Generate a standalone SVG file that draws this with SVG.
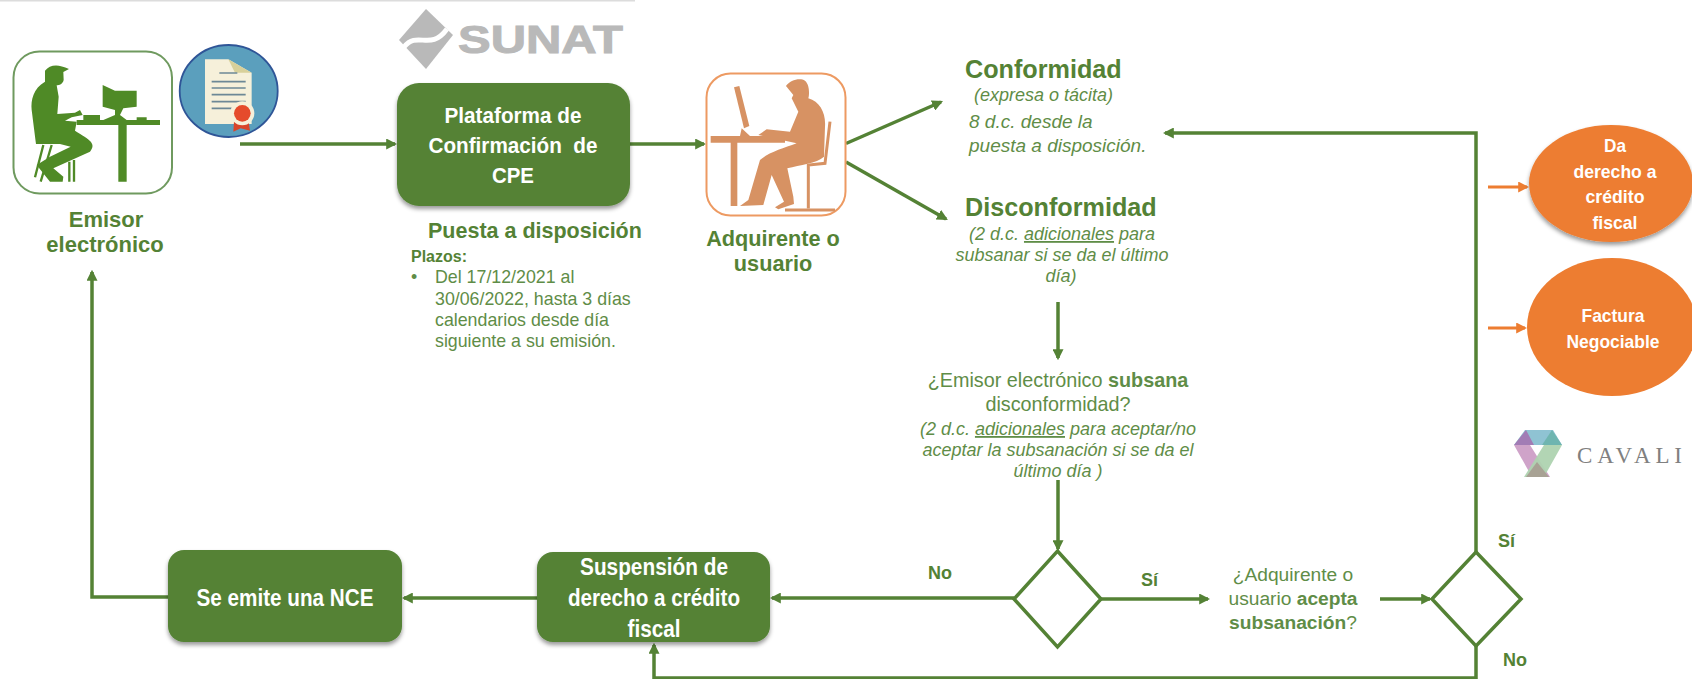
<svg xmlns="http://www.w3.org/2000/svg" width="1692" height="679" viewBox="0 0 1692 679">
<style>
text{font-family:"Liberation Sans",Arial,sans-serif}
.g{fill:#548235}
.l{fill:#5f8d47}
.b{font-weight:bold}
.c{text-anchor:middle}
.i{font-style:italic}
.w{fill:#fff;font-weight:bold;text-anchor:middle}
.t22{font-size:21.700px}.t25{font-size:25.200px}.t18{font-size:18px}
.box{fill:#548235;filter:url(#sh)}
.ell{fill:#ed7d31;filter:url(#sh)}
.ln{fill:none;stroke:#548235;stroke-width:3.500}
.arr{marker-end:url(#ag)}
.oarr{fill:none;stroke:#ed7d31;stroke-width:3;marker-end:url(#ao)}
.dia{fill:#fff;stroke:#548235;stroke-width:3.500}
</style>
<defs>
<filter id="sh" x="-10%" y="-10%" width="120%" height="125%"><feDropShadow dx="0" dy="3" stdDeviation="2.200" flood-color="#000" flood-opacity=".4"/></filter>
<marker id="ag" viewBox="0 0 10 10" refX="8" refY="5" markerWidth="11" markerHeight="11" markerUnits="userSpaceOnUse" orient="auto"><path d="M0,0L10,5L0,10Z" fill="#548235"/></marker>
<marker id="ao" viewBox="0 0 10 10" refX="8" refY="5" markerWidth="11" markerHeight="11" markerUnits="userSpaceOnUse" orient="auto"><path d="M0,0L10,5L0,10Z" fill="#ed7d31"/></marker>
</defs>
<rect width="1692" height="679" fill="#fff"/>
<rect id="top-rule" x="0" y="0" width="635" height="1.500" fill="#dcdcdc"/>

<g id="connectors">
<path class="ln arr" d="M240,144H395"/>
<path class="ln arr" d="M630,144H704"/>
<path class="ln arr" d="M846,143.500L941,102"/>
<path class="ln arr" d="M846,162L946,219"/>
<path class="ln arr" d="M1476,552V133H1165"/>
<path class="ln arr" d="M1058,302V358"/>
<path class="ln arr" d="M1058,480V549"/>
<path class="ln arr" d="M1014,598H772"/>
<path class="ln arr" d="M1101,599H1208"/>
<path class="ln arr" d="M1380,599H1430"/>
<path class="ln arr" d="M1476,646V678H654V645"/>
<path class="ln arr" d="M537,598H404"/>
<path class="ln arr" d="M168,597H92V272"/>
<path class="oarr" d="M1488,187H1527"/>
<path class="oarr" d="M1488,328H1525"/>
</g>

<g id="emisor">
<rect x="13.500" y="51.500" width="158.500" height="142" rx="26" fill="#fff" stroke="#6f9a5f" stroke-width="2"/>
<g transform="scale(.33333)" fill="#4f8a26">
<path d="M135,212C150,194 172,190 207,207L190,216L191,240C188,252 178,256 170,256L176,290L172,342L225,338L240,330L248,345L215,352L195,362L230,365L225,392C270,420 290,430 270,455L160,505L190,530L188,545H150L110,495L150,470L212,440L180,432H108C104,400 100,370 95,330C92,300 100,265 135,245Z"/>
<path d="M230,360H480V375H380V545H355V375H230Z"/>
<path d="M250,345H300V360H250ZM410,352H440V360H410Z"/>
<path d="M308,255L345,272H410V320L370,325L360,345L380,360H310L345,345V330L308,320Z"/>
<path d="M130,435L105,532M155,435L122,545M208,485V545M222,480V545" fill="none" stroke="#4f8a26" stroke-width="7"/>
</g>
<text class="g b c t22" x="106" y="227" style="font-size:22px">Emisor</text>
<text class="g b c t22" x="105" y="252" style="font-size:22px">electrónico</text>
</g>

<g id="documento">
<ellipse cx="228.700" cy="91" rx="49" ry="46" fill="#5b9fbd" stroke="#2f5597" stroke-width="1.800"/>
<g transform="scale(.33333)">
<path d="M615,178H685L755,218V372H615Z" fill="#f6f0da"/>
<path d="M685,178L755,218H705Z" fill="#d8d09a"/>
<path d="M658,219H712M635,245H737M635,264H737M635,284H737M635,305H737M635,325H695" stroke="#6d8896" stroke-width="5" fill="none"/>
<path d="M702,365L700,395L722,385L750,392L745,360Z" fill="#d9452a"/>
<circle cx="727" cy="340" r="36" fill="#f6f0da"/>
<circle cx="727" cy="340" r="25" fill="#e54b2c"/>
</g>
</g>

<g id="sunat">
<path d="M426,9L453,35L426,69L399,40Z" fill="#b9b9b9"/>
<path d="M404,47C418,30 430,52 447,29" fill="none" stroke="#fff" stroke-width="5"/>
<text x="458" y="53" font-size="39" font-weight="bold" fill="#b9b9b9" stroke="#b9b9b9" stroke-width="1" textLength="165" lengthAdjust="spacingAndGlyphs">SUNAT</text>
</g>

<g id="plataforma">
<rect class="box" x="397" y="83" width="233" height="123" rx="22"/>
<text class="w" font-size="22" x="513" y="123" textLength="137" lengthAdjust="spacingAndGlyphs">Plataforma de</text>
<text class="w" font-size="22" x="513" y="153" textLength="169" lengthAdjust="spacingAndGlyphs" xml:space="preserve">Confirmación  de</text>
<text class="w" font-size="22" x="513" y="183" textLength="42" lengthAdjust="spacingAndGlyphs">CPE</text>
</g>

<g id="plazos">
<text class="g b" font-size="21.500" x="428" y="238">Puesta a disposición</text>
<text class="g b" font-size="16" x="411" y="262">Plazos:</text>
<text class="l" font-size="17.800" x="411" y="283">•</text>
<text class="l" font-size="17.800" x="435" y="283">Del 17/12/2021 al</text>
<text class="l" font-size="17.800" x="435" y="305">30/06/2022, hasta 3 días</text>
<text class="l" font-size="17.800" x="435" y="326">calendarios desde día</text>
<text class="l" font-size="17.800" x="435" y="347">siguiente a su emisión.</text>
</g>

<g id="adquirente">
<rect x="706.500" y="73.500" width="139" height="142" rx="24" fill="#fff" stroke="#ed9a62" stroke-width="2"/>
<g transform="translate(380,0) scale(.33333)" fill="#d79263">
<path d="M1218,258C1230,240 1260,232 1275,242C1290,255 1288,285 1285,295C1320,305 1338,340 1335,380L1332,470C1310,490 1260,495 1222,505L1240,590L1242,612L1195,628L1185,622L1212,605L1175,525L1150,615L1080,618L1105,600L1140,480C1170,455 1210,445 1250,430L1135,405L1160,388L1230,395L1255,335L1235,295L1240,285Z"/>
<path d="M1062,262L1078,258L1108,378L1092,385Z"/>
<path d="M992,408H1215V428H1072V618H1052V428H992Z"/>
<path d="M1085,385L1110,408H1080Z"/>
<path d="M1350,365L1335,490L1285,495V625M1215,630H1365" fill="none" stroke="#d79263" stroke-width="9"/>
</g>
<text class="g b c t22" x="773" y="246">Adquirente o</text>
<text class="g b c t22" x="773" y="271">usuario</text>
</g>

<g id="conformidad">
<text class="g b t25" x="965" y="78">Conformidad</text>
<text class="l i t18" x="974" y="101">(expresa o tácita)</text>
<text class="l i" font-size="19" x="969" y="128">8 d.c. desde la</text>
<text class="l i" font-size="19" x="969" y="152">puesta a disposición.</text>
</g>

<g id="disconformidad">
<text class="g b t25" x="965" y="216">Disconformidad</text>
<text class="l i c t18" x="1062" y="240">(2 d.c. <tspan text-decoration="underline">adicionales</tspan> para</text>
<text class="l i c t18" x="1062" y="261">subsanar si se da el último</text>
<text class="l i c t18" x="1061" y="282">día)</text>
</g>

<g id="subsana">
<text class="l c" font-size="19.800" x="1058" y="387">¿Emisor electrónico <tspan class="b">subsana</tspan></text>
<text class="l c" font-size="19.800" x="1058" y="411">disconformidad?</text>
<text class="l i c t18" x="1058" y="435">(2 d.c. <tspan text-decoration="underline">adicionales</tspan> para aceptar/no</text>
<text class="l i c t18" x="1058" y="456">aceptar la subsanación si se da el</text>
<text class="l i c t18" x="1058" y="477">último día )</text>
</g>

<g id="decision-1">
<polygon class="dia" points="1057.500,551 1101,599 1057.500,647 1014,599"/>
<text class="g b t18" x="928" y="579">No</text>
<text class="g b t18" x="1141" y="586">Sí</text>
</g>

<g id="acepta">
<text class="l c" font-size="19.200" x="1293" y="581">¿Adquirente o</text>
<text class="l c" font-size="19.200" x="1293" y="605">usuario <tspan class="b">acepta</tspan></text>
<text class="l c" font-size="19.200" x="1293" y="629"><tspan class="b">subsanación</tspan>?</text>
</g>

<g id="decision-2">
<polygon class="dia" points="1476,552 1521,599 1476,646 1432,599"/>
<text class="g b t18" x="1498" y="547">Sí</text>
<text class="g b t18" x="1503" y="666">No</text>
</g>

<g id="suspension">
<rect class="box" x="537" y="552" width="233" height="90" rx="16"/>
<text class="w" font-size="23" x="654" y="575" textLength="148" lengthAdjust="spacingAndGlyphs">Suspensión de</text>
<text class="w" font-size="23" x="654" y="606" textLength="172" lengthAdjust="spacingAndGlyphs">derecho a crédito</text>
<text class="w" font-size="23" x="654" y="637" textLength="53" lengthAdjust="spacingAndGlyphs">fiscal</text>
</g>

<g id="nce">
<rect class="box" x="168" y="550" width="234" height="92" rx="16"/>
<text class="w" font-size="23" x="285" y="606" textLength="177" lengthAdjust="spacingAndGlyphs">Se emite una NCE</text>
</g>

<g id="credito">
<ellipse class="ell" cx="1611" cy="183.500" rx="82" ry="58.500"/>
<text class="w" font-size="19" x="1615" y="152" textLength="22" lengthAdjust="spacingAndGlyphs">Da</text>
<text class="w" font-size="19" x="1615" y="178" textLength="83" lengthAdjust="spacingAndGlyphs">derecho a</text>
<text class="w" font-size="19" x="1615" y="203" textLength="59" lengthAdjust="spacingAndGlyphs">crédito</text>
<text class="w" font-size="19" x="1615" y="229" textLength="45" lengthAdjust="spacingAndGlyphs">fiscal</text>
</g>

<g id="factura">
<ellipse cx="1612" cy="327" rx="85" ry="69" fill="#ed7d31"/>
<text class="w" font-size="19" x="1613" y="322" textLength="63" lengthAdjust="spacingAndGlyphs">Factura</text>
<text class="w" font-size="19" x="1613" y="348" textLength="93" lengthAdjust="spacingAndGlyphs">Negociable</text>
</g>

<g id="cavali">
<polygon points="1514,445 1525,430 1553,430 1562,445" fill="#8fc3d3"/>
<polygon points="1514,445 1530,445 1550,477 1532,477" fill="#cfa3c9"/>
<polygon points="1562,445 1544,445 1524,477 1544,477" fill="#aed3b0" opacity=".95"/>
<polygon points="1526,430 1514,445 1534,445" fill="#a27cb5"/>
<polygon points="1552,430 1562,445 1542,445" fill="#6fb5b0"/>
<polygon points="1537,462 1549,477 1526,477" fill="#a8a294"/>
<text x="1577" y="463" font-size="23" fill="#808080" style="font-family:'Liberation Serif',serif" textLength="105">CAVALI</text>
</g>
</svg>
